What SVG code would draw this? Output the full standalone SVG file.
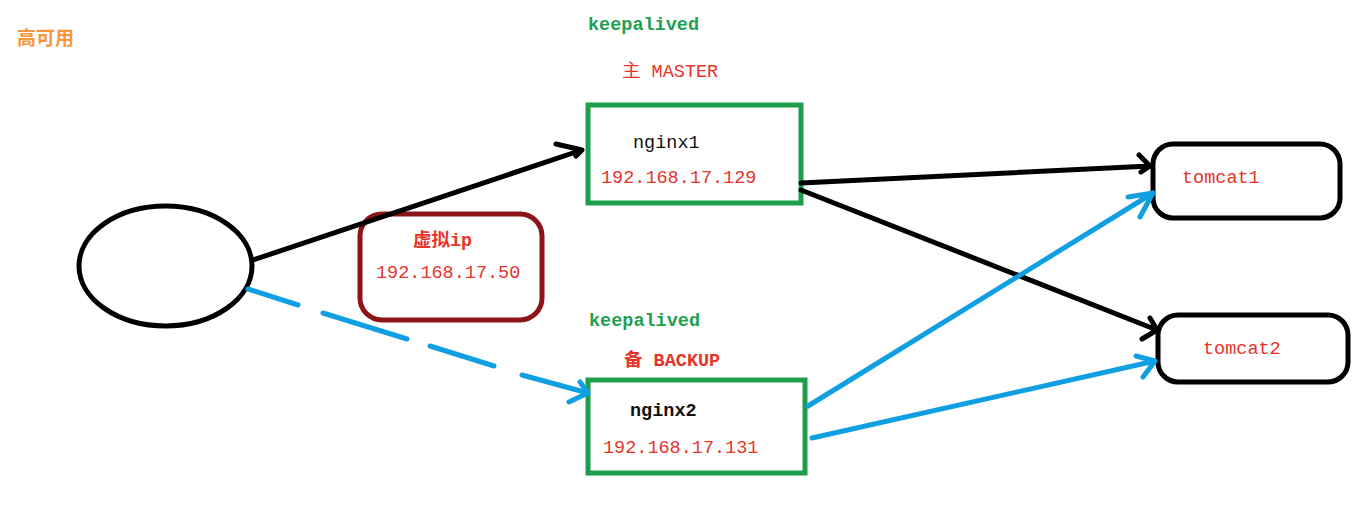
<svg xmlns="http://www.w3.org/2000/svg" width="1372" height="507" viewBox="0 0 1372 507">
<style>
.t{font-family:"Liberation Mono","Noto Sans CJK SC",monospace;font-size:18.5px}
.red{fill:#E8332B}
.blk{fill:#111}
.grn{fill:#20A050;font-weight:bold}
.b{font-weight:bold}
.gbox{fill:none;stroke:#1E9E4A;stroke-width:5}
.kline{fill:none;stroke:#000;stroke-width:5;stroke-linecap:round;stroke-linejoin:round}
.bline{fill:none;stroke:#119FE3;stroke-width:5;stroke-linecap:round;stroke-linejoin:round}
</style>
<rect width="1372" height="507" fill="#fff"/>
<text x="17" y="45" style="font-family:'Noto Sans CJK SC',sans-serif;font-size:19px;font-weight:bold;fill:#F7963C">高可用</text>

<g id="client">
<ellipse cx="165.5" cy="266" rx="86.5" ry="60" fill="none" stroke="#000" stroke-width="5"/>
</g>

<g id="vip">
<rect x="360" y="214" width="182" height="106" rx="22" fill="none" stroke="#8B1518" stroke-width="5"/>
<text class="t red b" x="413" y="246">虚拟ip</text>
<text class="t red" x="376" y="278">192.168.17.50</text>
</g>

<g id="nginx1">
<text class="t grn" x="588" y="30">keepalived</text>
<text class="t red" x="622" y="77">主 MASTER</text>
<rect class="gbox" x="588" y="105" width="213" height="98"/>
<text class="t blk" x="633" y="148">nginx1</text>
<text class="t red" x="601" y="183">192.168.17.129</text>
</g>

<g id="nginx2">
<text class="t grn" x="589" y="326">keepalived</text>
<text class="t red b" x="624" y="366">备 BACKUP</text>
<rect class="gbox" x="588" y="380" width="217" height="93"/>
<text class="t blk b" x="630" y="416">nginx2</text>
<text class="t red" x="603" y="453">192.168.17.131</text>
</g>

<g id="tomcat1">
<rect x="1153" y="144" width="187" height="74" rx="20" fill="none" stroke="#000" stroke-width="5"/>
<text class="t red" x="1182" y="183">tomcat1</text>
</g>

<g id="tomcat2">
<rect x="1158" y="315" width="190" height="67" rx="20" fill="none" stroke="#000" stroke-width="5"/>
<text class="t red" x="1203" y="354">tomcat2</text>
</g>

<g id="connectors">
<path class="kline" d="M253,260 L582,150 M556,144 L582,150 L576,156"/>
<path class="kline" d="M801,183 L1150,166 M1139,155 L1150,166 L1141,172"/>
<path class="kline" d="M801,190 L1157,330 M1142,339 L1157,330 L1150,318"/>
<path class="bline" d="M248,289 L298,305 M323,313 L407,339 M430,346 L494,366 M522,375 L588,393 M569,402 L588,393 L580,382"/>
<path class="bline" d="M808,406 L1153,193 M1140,217 L1153,193 L1128,197"/>
<path class="bline" d="M812,438 L1155,361 M1143,377 L1155,361 L1136,356"/>
</g>
</svg>
